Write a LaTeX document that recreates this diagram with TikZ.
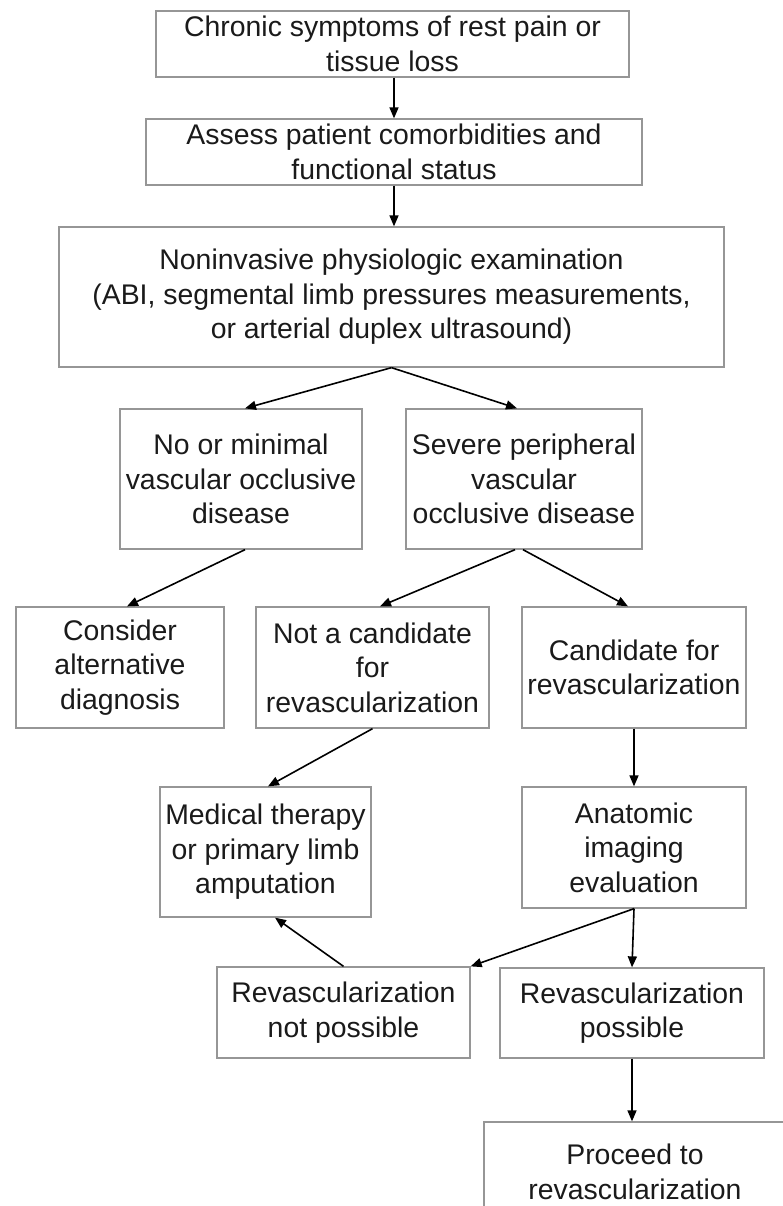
\documentclass[tikz,border=0pt]{standalone}
\usepackage{fontspec}
\setmainfont{Liberation Sans}
\usetikzlibrary{arrows.meta}
\definecolor{boxgray}{RGB}{150,150,150}
\definecolor{textblack}{RGB}{26,26,26}

\begin{document}
\begin{tikzpicture}[x=1pt,y=-1pt,
        box/.style={draw=boxgray,line width=1.3pt,rectangle,align=center,inner sep=0pt,
          text=textblack,font=\fontsize{28.4}{34.5}\selectfont},
        arr/.style={-{Triangle[length=11pt,width=9pt]},line width=1.6pt,black},
        ]
        \clip (0,0) rectangle (783,1206);
        \node (chronic) at (392.5,44) [box,minimum width=473pt,minimum height=66pt] {Chronic symptoms of rest pain or\\tissue loss};
        \node (assess) at (394,152) [box,minimum width=496pt,minimum height=66pt] {Assess patient comorbidities and\\functional status};
        \node (exam) at (391.5,297) [box,minimum width=665pt,minimum height=140pt] {Noninvasive physiologic examination\\(ABI, segmental limb pressures measurements,\\or arterial duplex ultrasound)};
        \node (minimal) at (241,479) [box,minimum width=242pt,minimum height=140pt] {No or minimal\\vascular occlusive\\disease};
        \node (severe) at (524,479) [box,minimum width=236pt,minimum height=140pt] {Severe peripheral\\vascular\\occlusive disease};
        \node (alternative) at (120,667.5) [box,minimum width=208pt,minimum height=121pt] {Consider\\alternative\\diagnosis};
        \node (notcandidate) at (372.5,667.5) [box,minimum width=233pt,minimum height=121pt] {Not a candidate\\for\\revascularization};
        \node (candidate) at (634,667.5) [box,minimum width=224pt,minimum height=121pt] {Candidate for\\revascularization};
        \node (medical) at (265.5,852) [box,minimum width=211pt,minimum height=130pt] {Medical therapy\\or primary limb\\amputation};
        \node (imaging) at (634,847.5) [box,minimum width=224pt,minimum height=121pt] {Anatomic\\imaging\\evaluation};
        \node (notpossible) at (343.5,1012.5) [box,minimum width=253pt,minimum height=91pt] {Revascularization\\not possible};
        \node (possible) at (632,1013) [box,minimum width=264pt,minimum height=90pt] {Revascularization\\possible};
        \node (proceed) at (635,1172) [box,minimum width=302pt,minimum height=100pt] {Proceed to\\revascularization};
        % connectors
        \draw[arr] ([xshift=1.5pt]chronic.south) -- (assess.north);
        \draw[arr] (assess.south) -- ([xshift=2.5pt]exam.north);
        \draw[arr] (exam.south) -- ([xshift=4pt]minimal.north);
        \draw[arr] (exam.south) -- ([xshift=-7pt]severe.north);
        \draw[arr] ([xshift=4pt]minimal.south) -- ([xshift=7pt]alternative.north);
        \draw[arr] ([xshift=-9pt]severe.south) -- ([xshift=7.5pt]notcandidate.north);
        \draw[arr] ([xshift=-1pt]severe.south) -- ([xshift=-6pt]candidate.north);
        \draw[arr] (notcandidate.south) -- ([xshift=2.5pt]medical.north);
        \draw[arr] (candidate.south) -- (imaging.north);
        \draw[arr] (imaging.south) -- (notpossible.north east);
        \draw[arr] (imaging.south) -- (possible.north);
        \draw[arr] (notpossible.north) -- ([xshift=9.5pt]medical.south);
        \draw[arr] (possible.south) -- ([xshift=-3pt]proceed.north);
\end{tikzpicture}
\end{document}
